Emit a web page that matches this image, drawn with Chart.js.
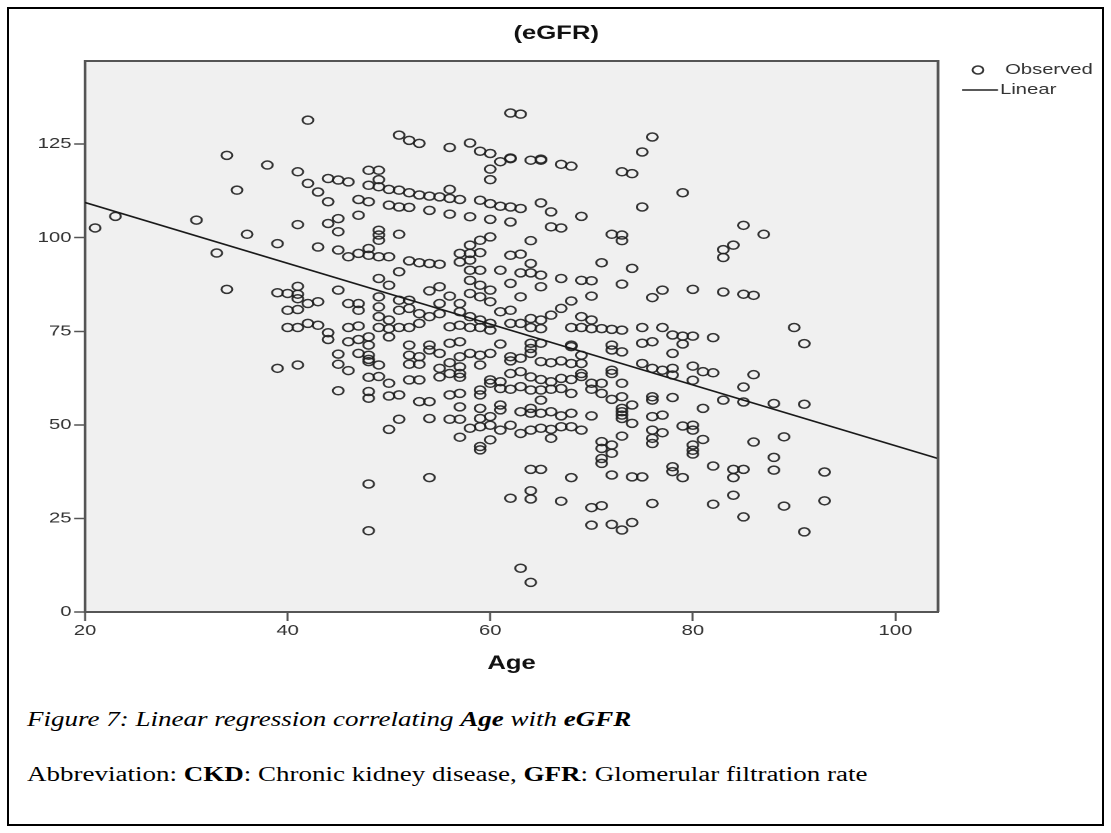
<!DOCTYPE html>
<html>
<head>
<meta charset="utf-8">
<title>Age vs eGFR</title>
<script src="https://cdn.jsdelivr.net/npm/chart.js@4.4.1/dist/chart.umd.min.js"></script>
<style>
  html, body { margin: 0; padding: 0; background: #fff; width: 1111px; height: 833px; overflow: hidden; }
  #frame { position: absolute; left: 7px; top: 7px; width: 1097px; height: 819px; border: 2px solid #000; box-sizing: border-box; }
  /* the source picture is stretched sideways, so the whole chart is too */
  #stretch { position: absolute; left: 0; top: 0; width: 823px; height: 700px; transform: scaleX(1.35); transform-origin: 0 0; }
  .caption { position: absolute; left: 27px; white-space: nowrap; color: #000;
    font-family: "Liberation Serif", "Times New Roman", serif; font-size: 20px; line-height: 24px;
    transform: scaleX(1.35); transform-origin: 0 0; }
</style>
</head>
<body>
<div id="frame"></div>
<div id="stretch"><canvas id="chart" width="823" height="700"></canvas></div>
<div class="caption" style="top:707px; font-style:italic;">Figure 7: Linear regression correlating <b>Age</b> with <b>eGFR</b></div>
<div class="caption" style="top:762px;">Abbreviation: <b>CKD</b>: Chronic kidney disease, <b>GFR</b>: Glomerular filtration rate</div>

<script>
// Observed points (age in years, eGFR)
const age20to50 = [
  42,34,38,41,35,42,43,44,44,45,
  46,48,49,49,48,49,50,47,48,50,
  47,31,23,21,41,44,45,45,49,49,
  49,36,39,43,33,45,46,47,48,49,
  50,48,49,50,34,41,39,40,41,45,
  42,43,41,40,41,46,47,47,49,49,
  49,50,51,40,41,42,43,44,44,46,
  47,46,47,48,48,49,50,50,
  39,41,45,45,46,47,48,48,48,49,
  49,48,50,45,48,48,50,50,48,48
];
const egfr20to50 = [
  131.4,122.0,119.4,117.6,112.7,114.5,112.2,109.6,115.8,115.4,
  114.9,118.0,118.0,115.5,114.0,113.6,112.9,110.2,109.6,108.7,
  106.0,104.7,105.7,102.6,103.5,103.8,105.1,101.6,102.0,100.7,
  99.3,100.9,98.4,97.5,95.9,96.7,94.9,95.8,95.3,94.9,
  94.9,97.1,89.1,87.3,86.2,87.0,85.3,85.1,84.9,86.0,
  82.4,82.9,83.7,80.6,80.8,82.4,82.4,80.6,84.2,81.5,
  78.9,78.0,80.6,76.0,76.0,77.1,76.6,74.6,72.8,76.0,
  76.4,72.2,72.8,73.5,71.3,76.0,75.7,73.5,
  65.1,66.0,68.9,66.2,64.5,69.1,68.6,67.5,66.9,66.0,
  62.9,62.7,61.1,59.1,58.9,57.1,57.7,48.8,34.2,21.7
];

const age51to80Upper = [
  62,63,76,75,51,52,53,56,58,59,
  60,61,62,62,60,60,64,65,65,67,
  68,73,74,79,75,51,52,53,54,55,
  56,56,57,51,52,54,56,58,59,60,
  61,62,63,60,62,65,66,69,66,67,
  72,73,73,51,64,58,59,60,57,58,
  59,58,52,53,54,55,51,57,58,59,
  61,62,63,63,64,64,65,65,71,74,
  67,69,70,70,73,76,77,80,54,55,
  56,57,58,59,60,58,59,60,62,63,
  68,51,52,52,53,55,55,57,58,59,
  60,61,62,64,65,66,67,69,70,71,
  72,73,75,77,78,79,80,68,69,70,
  56,57,58,59,60,62,63,64,65,51,
  52,53,54
];
const egfr51to80Upper = [
  133.3,133.0,126.9,122.9,127.4,126.0,125.2,124.1,125.3,123.1,
  122.5,120.3,121.1,121.3,118.3,115.5,120.7,120.7,121.0,119.6,
  119.1,117.6,117.1,112.0,108.2,112.7,112.0,111.4,111.1,110.9,
  112.9,110.5,110.2,108.2,108.1,107.3,106.3,105.6,110.0,109.1,
  108.4,108.2,107.8,104.9,104.2,109.3,106.9,105.7,102.9,102.6,
  100.9,100.7,99.2,100.9,99.2,98.0,99.3,100.2,95.8,95.8,
  96.0,94.0,93.8,93.3,93.1,92.9,90.9,93.5,91.3,91.3,
  91.3,95.3,95.6,90.6,93.1,90.6,90.0,86.9,93.3,91.8,
  89.1,88.6,88.5,84.4,87.6,84.0,86.0,86.2,85.8,86.9,
  84.4,82.4,88.6,87.3,86.0,85.1,84.2,82.9,87.8,84.2,
  83.1,83.3,83.3,81.1,79.7,82.4,79.7,80.2,78.9,78.0,
  77.1,80.2,80.6,78.4,78.0,79.3,81.1,78.9,78.0,75.7,
  75.5,75.3,76.0,76.0,74.0,73.7,73.7,76.0,76.0,75.7,
  76.2,76.6,76.0,76.0,75.3,77.1,77.1,76.0,75.7,76.0,
  76.0,77.1,78.9
];

const age51to80Lower = [
  52,54,54,56,57,61,64,64,65,68,
  68,72,75,76,79,52,53,52,53,55,
  56,57,57,58,59,59,60,62,62,63,
  64,65,66,67,68,69,69,72,73,75,
  76,78,78,55,56,57,57,52,53,55,
  60,61,62,63,64,65,66,67,68,69,
  72,72,77,78,51,53,54,56,57,59,
  59,60,61,62,63,64,65,65,66,67,
  68,70,70,71,71,72,73,73,74,76,
  76,78,69,51,54,56,57,57,59,59,
  60,61,61,63,64,64,65,66,67,68,
  70,73,73,73,73,76,77,79,58,59,
  60,61,62,63,64,65,66,66,67,68,
  69,57,60,73,74,76,76,77,59,59,
  71,71,71,71,72,72,76,54,64,65,
  68,72,74,75,78,78,79,62,64,64,
  67,70,71,76,70,72,73,74,63,64
];
const egfr51to80Lower = [
  71.3,71.3,70.0,71.8,72.2,71.6,71.8,70.4,71.8,71.3,
  70.9,71.3,71.8,72.2,71.6,68.6,68.2,66.2,66.2,69.1,
  66.6,68.2,65.5,69.1,68.6,66.0,69.1,68.2,67.1,67.8,
  69.1,66.9,66.6,67.1,66.4,66.4,68.6,70.0,69.5,66.4,
  65.1,69.1,65.1,65.1,63.7,63.7,62.7,62.0,62.0,62.8,
  62.0,61.5,63.7,64.2,62.8,62.1,61.5,62.4,62.1,63.7,
  64.6,63.7,64.6,63.3,58.0,56.2,56.2,58.0,58.4,59.3,
  58.0,61.1,59.7,59.5,60.2,59.3,59.3,56.6,59.5,59.7,
  58.4,61.1,59.5,61.1,58.4,56.8,61.1,57.5,55.3,57.5,
  56.6,57.3,62.9,51.5,51.7,51.5,54.8,51.5,54.4,51.7,
  52.2,54.0,55.3,53.5,54.4,53.1,53.1,53.5,52.4,53.1,
  52.4,54.4,53.5,52.6,51.7,52.2,52.6,49.7,49.1,49.5,
  49.9,48.6,49.9,47.7,48.6,49.1,48.8,46.4,49.5,49.5,
  48.6,46.7,46.0,47.0,50.4,48.6,46.4,47.9,44.2,43.3,
  45.5,43.7,41.0,39.7,44.6,42.4,45.0,35.9,38.1,38.1,
  35.9,36.6,36.1,36.1,38.8,37.5,35.9,30.4,32.4,30.2,
  29.6,27.9,28.4,29.0,23.2,23.4,21.9,23.9,11.7,7.9
];

const age80plus = [
  85,87,84,83,83,83,85,86,90,91,
  82,80,81,82,86,80,85,83,85,88,
  91,81,80,80,81,80,80,80,86,89,
  82,84,85,84,88,88,93,84,82,89,
  93,85,91
];
const egfr80plus = [
  103.3,100.9,98.0,96.8,94.7,85.5,84.9,84.6,76.0,71.7,
  73.3,65.7,64.2,63.9,63.4,61.9,60.1,56.6,56.1,55.7,
  55.5,54.4,49.9,48.6,46.1,44.6,43.2,42.2,45.4,46.8,
  39.0,38.1,38.1,35.9,41.3,37.9,37.4,31.2,28.8,28.3,
  29.7,25.4,21.4
];

// fitted line, ends read at the plot edges
const fitAge = [20, 104.2];
const fitEgfr = [109.4, 41.0];

const xTicks = [20, 40, 60, 80, 100];
const yTicks = [0, 25, 50, 75, 100, 125];
const xRange = [20, 104.2];
const yRange = [0, 147.2];

// layout (canvas units; x is stretched 1.35 by css)
const S = 1.35;
const W = 823, H = 700;
const plotLeft = 85 / S, plotRight = 938 / S, plotTop = 61, plotBottom = 612;
const sans = '"Liberation Sans", Arial, sans-serif';
const ink = 'rgba(30,30,30,0.9)';

function pairUp(xs, ys) {
  return xs.map((x, i) => ({ x: x, y: ys[i] }));
}

const observed = [].concat(
  pairUp(age20to50, egfr20to50),
  pairUp(age51to80Upper, egfr51to80Upper),
  pairUp(age51to80Lower, egfr51to80Lower),
  pairUp(age80plus, egfr80plus)
);
const fitted = pairUp(fitAge, fitEgfr);

const decor = {
  id: 'decor',
  beforeDraw(chart) {
    const { ctx, chartArea: a } = chart;
    ctx.save();
    ctx.fillStyle = '#f0f0f0';
    ctx.fillRect(a.left, a.top, a.right - a.left, a.bottom - a.top);
    ctx.restore();
  },
  afterDraw(chart) {
    const { ctx, chartArea: a } = chart;
    ctx.save();
    // top and right edges of the plot box
    ctx.strokeStyle = '#555';
    ctx.lineWidth = 2;
    ctx.beginPath();
    ctx.moveTo(a.left, a.top);
    ctx.lineTo(a.right, a.top);
    ctx.lineTo(a.right, a.bottom);
    ctx.stroke();

    // title
    ctx.fillStyle = '#111';
    ctx.font = 'bold 19px ' + sans;
    ctx.textAlign = 'center';
    ctx.textBaseline = 'middle';
    ctx.fillText('(eGFR)', 412, 34);

    // legend
    ctx.font = '15px ' + sans;
    ctx.textAlign = 'left';
    ctx.fillStyle = '#333';
    ctx.strokeStyle = ink;
    ctx.lineWidth = 1.5;
    ctx.beginPath();
    ctx.arc(978 / S, 70, 4, 0, Math.PI * 2);
    ctx.stroke();
    ctx.fillText('Observed', 1005 / S, 70);

    ctx.strokeStyle = '#222';
    ctx.lineWidth = 1.5;
    ctx.beginPath();
    ctx.moveTo(962 / S, 90);
    ctx.lineTo(998 / S, 90);
    ctx.stroke();
    ctx.fillText('Linear', 1000 / S, 90);
    ctx.restore();
  }
};

new Chart(document.getElementById('chart'), {
  type: 'scatter',
  data: {
    datasets: [
      {
        label: 'Observed',
        data: observed,
        pointStyle: 'circle',
        pointRadius: 4,
        pointBorderWidth: 1.5,
        borderColor: ink,
        pointBorderColor: ink,
        backgroundColor: 'transparent',
        pointBackgroundColor: 'transparent',
        order: 2
      },
      {
        type: 'line',
        label: 'Linear',
        data: fitted,
        borderColor: '#1a1a1a',
        borderWidth: 1.6,
        pointRadius: 0,
        fill: false,
        order: 1
      }
    ]
  },
  options: {
    responsive: false,
    maintainAspectRatio: false,
    animation: false,
    devicePixelRatio: 2,
    events: [],
    layout: { padding: { left: 0, top: plotTop, right: W - plotRight, bottom: 0 } },
    plugins: { legend: { display: false }, tooltip: { enabled: false }, title: { display: false } },
    scales: {
      x: {
        type: 'linear',
        min: xRange[0],
        max: xRange[1],
        afterFit(s) { s.height = H - plotBottom; },
        afterBuildTicks(s) { s.ticks = xTicks.map(v => ({ value: v })); },
        ticks: { font: { family: sans, size: 15 }, color: '#333', padding: 1, maxRotation: 0, autoSkip: false },
        grid: { drawOnChartArea: false, drawTicks: true, tickLength: 9, tickColor: '#555', tickWidth: 1.5 },
        border: { display: true, color: '#555', width: 2 },
        title: { display: true, text: 'Age', color: '#111', font: { family: sans, size: 19, weight: 'bold' }, padding: { top: 0, bottom: 24.6 } }
      },
      y: {
        type: 'linear',
        min: yRange[0],
        max: yRange[1],
        afterFit(s) { s.width = plotLeft; },
        afterBuildTicks(s) { s.ticks = yTicks.map(v => ({ value: v })); },
        ticks: { font: { family: sans, size: 15 }, color: '#333', padding: 2, autoSkip: false },
        grid: { drawOnChartArea: false, drawTicks: true, tickLength: 8, tickColor: '#555', tickWidth: 1.5 },
        border: { display: true, color: '#555', width: 2 }
      }
    }
  },
  plugins: [decor]
});
</script>
</body>
</html>
